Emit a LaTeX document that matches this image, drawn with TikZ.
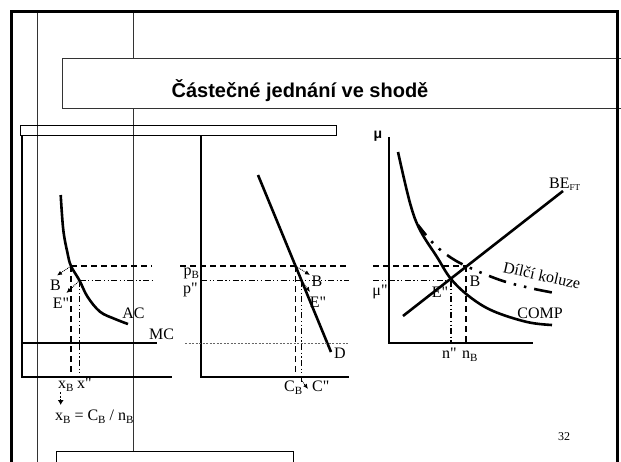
\documentclass[tikz,border=0pt]{standalone}
\usepackage{fontspec}
\setmainfont{Liberation Serif}
\newfontfamily\lblfont{Liberation Serif}
\newfontfamily\titlefont{Liberation Sans}
\usetikzlibrary{arrows.meta}
\newcommand\lsub[1]{\raisebox{-0.45ex}{\fontsize{11}{12}\selectfont #1}}
\newcommand\ssub[1]{\raisebox{-0.35ex}{\fontsize{9}{10}\selectfont #1}}
\begin{document}
\begin{tikzpicture}[x=1pt,y=-1pt,
  lbl/.style={font=\lblfont\fontsize{16}{18}\selectfont, inner sep=0pt},
  curve/.style={line width=2.6pt},
  axisline/.style={line width=1.8pt},
  dsh/.style={line width=1.1pt, dash pattern=on 6pt off 4pt},
  dshdot/.style={line width=1.1pt, dash pattern=on 6pt off 2.5pt on 1.2pt off 2.5pt on 1.2pt off 2.5pt},
  ptr/.style={densely dotted, line width=0.9pt, -{Latex[length=5pt,width=4.5pt]}},
  frameline/.style={line width=1pt, black!80},
]
\useasboundingbox (0,0) rectangle (621,461);
\clip (0,0) rectangle (621,461);

% thin vertical guide lines
\draw[frameline] (37,11) -- (37,470);
\draw[frameline] (133,11) -- (133,470);

% title box
\draw[frameline, fill=white] (62,58) rectangle (640,108);
\node[font=\titlefont\bfseries\fontsize{20}{24}\selectfont, inner sep=0pt, anchor=base] (title) at (300,97) {Částečné jednání ve shodě};

% outer frame
\draw[line width=3pt] (11.5,480) -- (11.5,11.5) -- (617.5,11.5) -- (617.5,480);

% top small box and bottom box
\draw[line width=1pt] (20.5,125) rectangle (336,135.5);
\draw[line width=1pt, fill=white] (56,451) rectangle (293,480);

% ---------- left panel ----------
\draw[axisline] (22,135.5) -- (22,377) -- (172,377);
\draw[curve] (22,343) -- (157,343);
\node[lbl] (mc) at (161.5,334) {MC};
\draw[curve] plot[smooth, tension=0.6] coordinates {(60.7,195) (63.3,230) (67.5,253) (71,266) (79.5,280.5) (87.5,296.7) (100,311.7) (115,319) (128,324)};
\node[lbl] (ac) at (133.5,313.5) {AC};
\coordinate (lB) at (71,266);
\coordinate (lE) at (79.5,280.5);
\draw[dsh] (lB) -- (152,266);
\draw[dshdot] (lE) -- (152,280.5);
\draw[dsh] (lB) -- (71,377);
\draw[dshdot] (lE) -- (79.5,377);
\coordinate (lBt) at (57,275.5);
\coordinate (lEt) at (66.5,293);
\draw[ptr] (lB) -- (lBt);
\draw[ptr] (lE) -- (lEt);
\node[lbl] (lBl) at (55.5,285) {B};
\node[lbl] (lEl) at (61,303) {E"};
\node[lbl, anchor=base west] (xb) at (58,388) {x\lsub{B}};
\node[lbl, anchor=base west] (xq) at (77,388) {x"};
\coordinate (xa1) at (60.7,392);
\coordinate (xa2) at (60.7,405);
\draw[line width=0.9pt, dash pattern=on 2pt off 1.5pt, -{Latex[length=5pt,width=6pt]}] (xa1) -- (xa2);
\node[lbl, anchor=base west] (formula) at (55,420) {x\lsub{B} = C\lsub{B} / n\lsub{B}};

% ---------- middle panel ----------
\draw[axisline] (201,135.5) -- (201,377) -- (349,377);
\coordinate (d1) at (258,175);
\coordinate (d2) at (331,352);
\draw[curve] (d1) -- (d2);
\node[lbl] (dl) at (340,353) {D};
\coordinate (mB) at (295.5,266);
\coordinate (mE) at (301.3,280.5);
\draw[dsh] (180,266) -- (349,266);
\draw[dshdot] (201,280.5) -- (349,280.5);
\draw[line width=0.8pt, black!60, dash pattern=on 2pt off 1.5pt] (185,343) -- (349,343);
\draw[dsh] (mB) -- (295.5,377);
\draw[dshdot] (mE) -- (301.3,383);
\node[lbl, anchor=base west, fill=white, inner sep=0.3pt] (pb) at (183,275) {p\lsub{B}};
\node[lbl, anchor=base west] (pq) at (183,293.5) {p"};
\coordinate (mBt) at (310,275);
\coordinate (mEt) at (310,292);
\draw[ptr] (mB) -- (mBt);
\draw[ptr] (mE) -- (mEt);
\node[lbl] (mBl) at (317,281.5) {B};
\node[lbl] (mEl) at (318,302) {E"};
\node[lbl, anchor=base west] (cb) at (284,391) {C\lsub{B}};
\node[lbl, anchor=base west] (cq) at (312,391) {C"};
\coordinate (cs) at (302,381);
\coordinate (ct) at (308,389);
\draw[ptr] (cs) -- (ct);

% ---------- right panel ----------
\draw[axisline] (389,137) -- (389,343) -- (533,343);
\node[font=\titlefont\bfseries\fontsize{14}{16}\selectfont, inner sep=0pt] (mu) at (378,136) {μ};
\draw[curve] plot[smooth, tension=0.6] coordinates {(398,152) (410,203) (420,230) (437,257) (451,279) (470,297) (493,311) (527,322) (552,325)};
\node[lbl] (comp) at (540,313) {COMP};
\coordinate (be1) at (403,316);
\coordinate (be2) at (563,191);
\draw[curve] (be1) -- (be2);
\node[lbl, anchor=base west] (bel) at (549,188) {BE\ssub{FT}};
\draw[line width=2.6pt, dash pattern=on 18pt off 8pt on 2.5pt off 8pt on 2.5pt off 8pt, dash phase=5pt]
  plot[smooth, tension=0.6] coordinates {(418,225) (432,242) (447,255) (466,266) (500,280) (530,288) (555,293)};
\node[lbl, rotate=-12.7] (kol) at (542,275.5) {Dílčí koluze};
\coordinate (rB) at (466,266);
\coordinate (rE) at (451,280.5);
\draw[dsh] (373,266) -- (rB);
\draw[dshdot] (373,280.5) -- (rE);
\draw[dsh] (rB) -- (466,343);
\draw[dshdot] (rE) -- (451,343);
\node[lbl] (muq) at (380,292) {μ"};
\node[lbl] (rEl) at (440,292) {E"};
\node[lbl] (rBl) at (475,281) {B};
\node[lbl, anchor=base west] (nq) at (442,358) {n"};
\node[lbl, anchor=base west] (nb) at (462,358) {n\lsub{B}};
\node[font=\lblfont\fontsize{12}{14}\selectfont, inner sep=0pt] (pg) at (564,437) {32};
\end{tikzpicture}
\end{document}
